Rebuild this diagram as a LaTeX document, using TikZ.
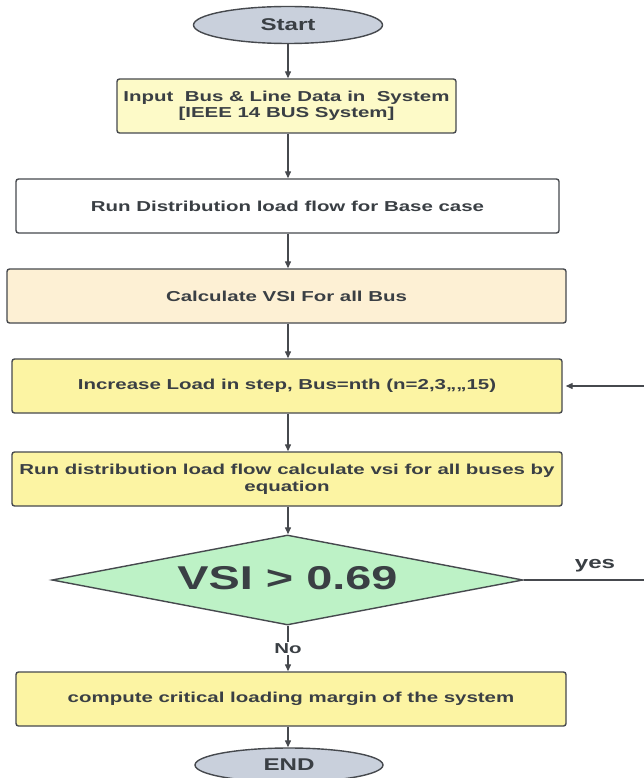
\documentclass[tikz,border=0pt]{standalone}
\usepackage{fontspec}
\setmainfont{Liberation Sans}[FakeStretch=1.42]
\usetikzlibrary{shapes.geometric,arrows.meta}
\definecolor{txt}{HTML}{3A3F44}
\definecolor{edge}{HTML}{46494E}
\definecolor{termfill}{HTML}{C9D0DC}
\definecolor{paleyel}{HTML}{FDFAC8}
\definecolor{cream}{HTML}{FDF0D4}
\definecolor{yel}{HTML}{FCF4A3}
\definecolor{grn}{HTML}{BDF2C6}
\begin{document}
\begin{tikzpicture}[x=1pt,y=-1pt,
  box/.style={draw=edge,line width=1.4pt,rounded corners=2.5pt,inner sep=0pt,minimum height=54pt,text=txt,font=\fontsize{14.4}{17}\selectfont\bfseries,align=center},
  term/.style={ellipse,draw=edge,line width=1.4pt,fill=termfill,inner sep=0pt,text=txt,font=\fontsize{17}{19}\selectfont\bfseries},
  arr/.style={draw=edge,line width=1.3pt,-{Triangle[length=7pt,width=6pt]}},
  lbl/.style={text=txt,inner sep=1pt,font=\fontsize{14.4}{16}\selectfont\bfseries}
  ]
\useasboundingbox[fill=white] (0,0) rectangle (644,778);
\node[term,minimum width=189pt,minimum height=37pt] (start) at (288,25) {Start};
\node[box,fill=paleyel,minimum width=339pt,font=\fontsize{14.4}{16}\selectfont\bfseries] (in) at (286.5,106) {Input\ \ Bus \& Line Data in\ \ System\\{[}IEEE 14 BUS System{]}};
\node[box,fill=white,minimum width=543pt] (b2) at (287.5,206) {Run Distribution load flow for Base case};
\node[box,fill=cream,minimum width=559pt] (b3) at (286.5,296) {Calculate VSI For all Bus};
\node[box,fill=yel,minimum width=550pt] (b4) at (287,386) {Increase Load in step, Bus=nth (n=2,3,,,,15)};
\node[box,fill=yel,minimum width=550pt] (b5) at (287,479) {Run distribution load flow calculate vsi for all buses by\\equation};
\node[diamond,aspect=5.23,draw=edge,line width=1.4pt,fill=grn,minimum width=471pt,minimum height=90pt,inner sep=0pt,text=txt,font=\fontsize{33}{36}\selectfont\bfseries] (dec) at (287.5,580) {\raisebox{4pt}{VSI > 0.69}};
\node[box,fill=yel,minimum width=550pt] (b6) at (291,699) {compute critical loading margin of the system};
\node[term,minimum width=188pt,minimum height=34pt] (end) at (289,765) {END};
\node[lbl,font=\fontsize{17}{19}\selectfont\bfseries] (yes) at (595,566) {yes};
\coordinate (loopx) at (660,0);

\draw[arr] (start.south) -- (start.south |- in.north);
\draw[arr] (in.south -| start) -- (b2.north -| start);
\draw[arr] (b2.south -| start) -- (b3.north -| start);
\draw[arr] (b3.south -| start) -- (b4.north -| start);
\draw[arr] (b4.south -| start) -- (b5.north -| start);
\draw[arr] (b5.south -| start) -- (dec.north -| start);
\draw[arr] (dec.south -| start) -- node[lbl,fill=white] (no) {No} (b6.north -| start);
\draw[arr] (b6.south -| start) -- (end.north -| start);
\draw[arr,shorten >=3pt] (dec.east) -- (dec.east -| loopx) |- (b4.east);
\end{tikzpicture}
\end{document}
